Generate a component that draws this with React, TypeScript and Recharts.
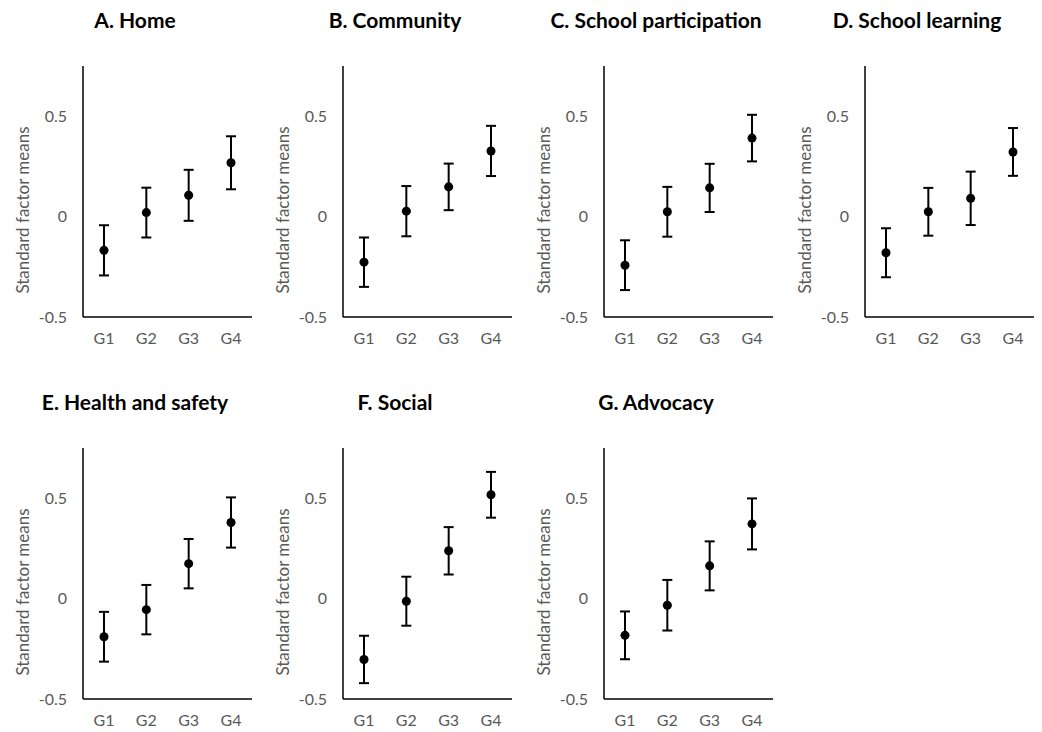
import React from 'react';
import { ComposedChart, Scatter, XAxis, YAxis, ErrorBar } from 'recharts';

const groups = ['G1', 'G2', 'G3', 'G4'];
const yTicks = [-0.5, 0, 0.5];
const yDomain = [-0.5, 0.75];

const titles = [
  'A. Home',
  'B. Community',
  'C. School participation',
  'D. School learning',
  'E. Health and safety',
  'F. Social',
  'G. Advocacy',
];

const homeMeans = [-0.168, 0.02, 0.106, 0.268];
const homeErr = [0.125, 0.124, 0.127, 0.132];
const communityMeans = [-0.227, 0.027, 0.148, 0.327];
const communityErr = [0.123, 0.125, 0.116, 0.125];
const participationMeans = [-0.242, 0.024, 0.143, 0.391];
const participationErr = [0.124, 0.124, 0.12, 0.116];
const learningMeans = [-0.18, 0.024, 0.091, 0.322];
const learningErr = [0.122, 0.119, 0.133, 0.119];
const healthMeans = [-0.19, -0.055, 0.174, 0.379];
const healthErr = [0.124, 0.123, 0.123, 0.125];
const socialMeans = [-0.303, -0.013, 0.238, 0.517];
const socialErr = [0.118, 0.122, 0.118, 0.114];
const advocacyMeans = [-0.183, -0.033, 0.163, 0.372];
const advocacyErr = [0.119, 0.126, 0.122, 0.127];

const panelMeans = [homeMeans, communityMeans, participationMeans, learningMeans, healthMeans, socialMeans, advocacyMeans];
const panelErrs = [homeErr, communityErr, participationErr, learningErr, healthErr, socialErr, advocacyErr];

const FONT = 'Lato, "Open Sans", sans-serif';
const PANEL_W = 260;
const PANEL_H = 360;
const panelLefts = [0, 260, 521, 782];
const rowTops = [0, 382];

function Panel({ idx }: { idx: number }) {
  const data = groups.map((g, i) => ({ g, m: panelMeans[idx][i], e: panelErrs[idx][i] }));
  const col = idx % 4;
  const row = Math.floor(idx / 4);
  return (
    <div style={{ position: 'absolute', left: panelLefts[col], top: rowTops[row], width: PANEL_W, height: PANEL_H }}>
      <div
        style={{
          position: 'absolute',
          left: 135,
          top: 6,
          transform: 'translateX(-50%)',
          whiteSpace: 'nowrap',
          fontFamily: FONT,
          fontWeight: 700,
          fontSize: 21,
          lineHeight: '28px',
          color: '#000',
        }}
      >
        {titles[idx]}
      </div>
      <ComposedChart width={PANEL_W} height={PANEL_H} data={data} margin={{ top: 66, right: 8, bottom: 13, left: 0 }}>
        <XAxis
          dataKey="g"
          height={30}
          padding={{ left: 21, right: 21 }}
          tickLine={false}
          axisLine={{ stroke: '#000', strokeWidth: 1.5 }}
          tick={{ fill: '#595959', fontSize: 16, fontFamily: FONT }}
          tickMargin={10}
        />
        <YAxis
          type="number"
          width={83}
          domain={yDomain}
          ticks={yTicks}
          allowDataOverflow
          tickLine={false}
          axisLine={{ stroke: '#000', strokeWidth: 1.5 }}
          tick={{ fill: '#595959', fontSize: 16, fontFamily: FONT }}
          tickMargin={10}
          label={{
            content: () => (
              <text
                x={22}
                y={210}
                transform="rotate(-90, 22, 210)"
                textAnchor="middle"
                dominantBaseline="central"
                fill="#595959"
                fontSize={17}
                fontFamily={FONT}
              >
                Standard factor means
              </text>
            ),
          }}
        />
        <Scatter dataKey="m" fill="#000" isAnimationActive={false}>
          <ErrorBar dataKey="e" direction="y" width={5} strokeWidth={2} stroke="#000" isAnimationActive={false} />
        </Scatter>
      </ComposedChart>
    </div>
  );
}

export default function App() {
  return (
    <div style={{ position: 'absolute', left: 0, top: 0, width: 1042, height: 732, background: '#fff' }}>
      {titles.map((_, i) => (
        <Panel key={i} idx={i} />
      ))}
    </div>
  );
}
